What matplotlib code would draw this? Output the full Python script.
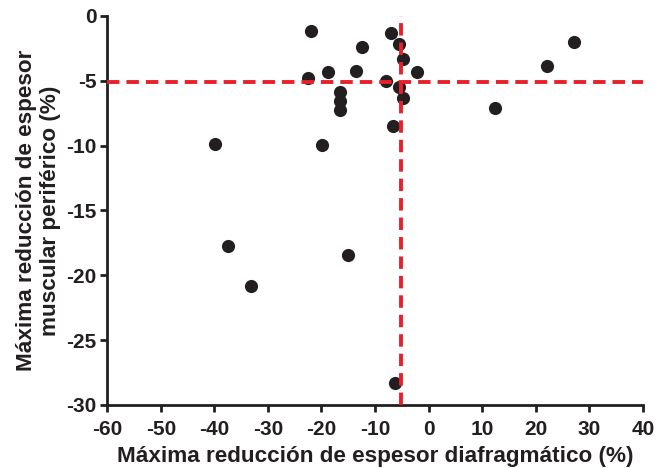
import matplotlib
matplotlib.use("Agg")
import matplotlib.pyplot as plt

diaphragm = [-22.0, -7.1, -5.5, -12.5, -4.8, -22.6, -18.8, -13.5, -8.0, -5.5,
             -4.8, -2.2, -16.6, -16.6, -16.6, -6.6, -39.9, -19.9, 27.2, 22.1,
             12.4, -37.4, -15.0, -33.2, -6.3]
peripheral = [-1.13, -1.33, -2.18, -2.37, -3.34, -4.76, -4.29, -4.24, -4.99, -5.45,
              -6.35, -4.29, -5.84, -6.55, -7.25, -8.48, -9.87, -9.95, -2.03, -3.9,
              -7.12, -17.76, -18.48, -20.87, -28.32]
x_threshold = -5.1
y_threshold = -5.1
x_ticks = list(range(-60, 41, 10))
y_ticks = list(range(-30, 1, 5))

plt.rcParams['font.family'] = ['Liberation Sans', 'DejaVu Sans']
plt.rcParams['axes.unicode_minus'] = False
dark = '#231f20'
red = '#e8202a'

fig = plt.figure(figsize=(6.58, 4.68), dpi=100)
ax = fig.add_axes([0.163, 0.135, 0.814, 0.831])

ax.scatter(diaphragm, peripheral, s=90, color=dark, zorder=3, linewidths=0)
ax.axvline(x_threshold, color=red, lw=2.8, dashes=(3.2, 1.8), zorder=4)
ax.axhline(y_threshold, color=red, lw=2.8, dashes=(3.2, 1.8), zorder=4)

ax.set_xlim(-60, 40)
ax.set_ylim(-30, 0)
ax.set_xticks(x_ticks)
ax.set_yticks(y_ticks)
for side in ['top', 'right']:
    ax.spines[side].set_visible(False)
for side in ['left', 'bottom']:
    ax.spines[side].set_linewidth(2.0)
    ax.spines[side].set_color(dark)
ax.tick_params(axis='both', direction='out', length=5, width=2.0, color=dark,
               labelsize=15, labelcolor=dark)
ax.tick_params(axis='x', pad=6)
ax.tick_params(axis='y', pad=2.5)
for lab in ax.get_xticklabels() + ax.get_yticklabels():
    lab.set_fontweight('bold')

ax.set_xlabel('Máxima reducción de espesor diafragmático (%)', fontsize=16.2,
              fontweight='bold', color=dark, labelpad=5)
ax.set_ylabel('Máxima reducción de espesor\nmuscular periférico (%)', fontsize=16.2,
              fontweight='bold', color=dark, labelpad=4, linespacing=1.2)

fig.savefig('out.png', dpi=100)
